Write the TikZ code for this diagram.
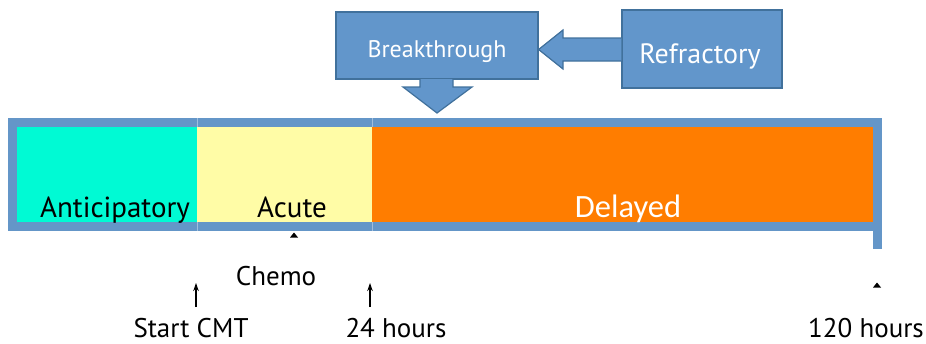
\documentclass[tikz,border=0pt]{standalone}
\usepackage{fontspec}
\setmainfont{PT Sans}
\newfontfamily\calib{Carlito}
\usetikzlibrary{arrows.meta,calc}
\definecolor{barblue}{RGB}{100,150,200}
\definecolor{boxblue}{RGB}{98,150,203}
\definecolor{boxedge}{RGB}{65,113,156}
\definecolor{divline}{RGB}{160,190,220}
\definecolor{cyanfill}{RGB}{0,250,212}
\definecolor{yellowfill}{RGB}{255,252,166}
\definecolor{orangefill}{RGB}{255,125,0}
\tikzset{
  bluebox/.style={draw=boxedge, line width=1.2pt, fill=boxblue, inner sep=0pt},
  blockarrow/.style={draw=boxedge, line width=1.2pt, fill=boxblue},
  lbl/.style={inner sep=0pt, anchor=base, text=black},
  tick/.style={fill=black, draw=none},
  uparrow/.style={-{Stealth[length=8pt,width=5.5pt]}, line width=1.1pt}
}
\begin{document}
\begin{tikzpicture}[x=1pt,y=-1pt]
\useasboundingbox (0,0) rectangle (926,343);
% bar
\fill[barblue] (8,118) rectangle (882,231);
\fill[barblue] (873,231) rectangle (882,249);
\draw[divline, line width=0.6pt] (197,118) -- (197,231) (372,118) -- (372,231);
\fill[cyanfill] (17,127) rectangle (197,222);
\fill[yellowfill] (197,127) rectangle (372,222);
\fill[orangefill] (372,127) rectangle (873,222);
% phase labels
\node[lbl, font=\fontsize{29}{32}\selectfont] (antic) at (115,217) {Anticipatory};
\node[lbl, font=\fontsize{29}{32}\selectfont] (acute) at (292,217) {Acute};
\node[lbl, font=\calib\fontsize{32.5}{36}\selectfont, text=white] (delayed) at (628,217) {Delayed};
% top boxes
\node[bluebox, minimum width=202pt, minimum height=67pt] (brk) at (437,45.5) {};
\node[lbl, text=white, font=\fontsize{24}{26}\selectfont] (brktxt) at (437,57) {Breakthrough};
\node[bluebox, minimum width=160pt, minimum height=78pt] (ref) at (702,49) {};
\node[lbl, text=white, font=\fontsize{28}{30}\selectfont] (reftxt) at (700,63) {Refractory};
% left block arrow from Refractory to Breakthrough
\draw[blockarrow] (ref.west |- 0,38) -- (563,38) -- (563,30) -- (brk.east |- 0,49.5) -- (563,69) -- (563,61) -- (ref.west |- 0,61);
% down block arrow from Breakthrough to bar
\coordinate (tip) at (437,113);
\draw[blockarrow] (420,79) -- (420,87) -- (403,87) -- (tip) -- (472,87) -- (453,87) -- (453,79);
% ticks and labels below
\coordinate (acutetick) at (294,232.5);
\fill[tick] ($(acutetick)+(-4,5)$) -- (acutetick) -- ($(acutetick)+(4,5)$) -- cycle;
\node[lbl, font=\fontsize{27}{30}\selectfont] (chemo) at (276,285) {Chemo};
\coordinate (s0) at (196,307);
\coordinate (s1) at (196,283);
\draw[uparrow] (s0) -- (s1);
\coordinate (h0) at (370,307);
\coordinate (h1) at (370,283);
\draw[uparrow] (h0) -- (h1);
\node[lbl, font=\fontsize{27}{30}\selectfont] (start) at (191,337) {Start CMT};
\node[lbl, font=\fontsize{27}{30}\selectfont] (h24) at (396,337) {24 hours};
\coordinate (endtick) at (877,282.5);
\fill[tick] ($(endtick)+(-4,5)$) -- (endtick) -- ($(endtick)+(4,5)$) -- cycle;
\node[lbl, font=\fontsize{27}{30}\selectfont] (h120) at (866,337) {120 hours};
\end{tikzpicture}
\end{document}
